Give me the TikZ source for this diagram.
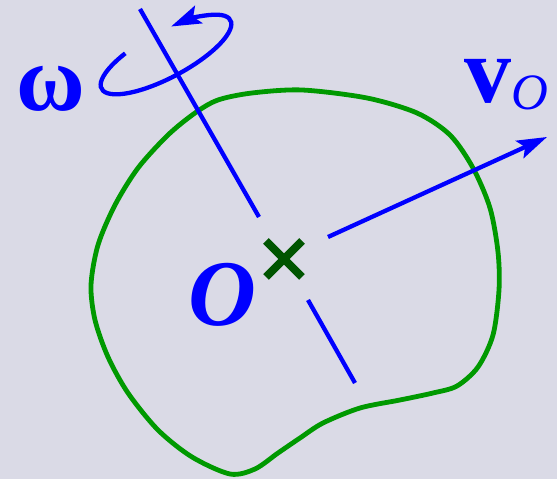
\documentclass[tikz,border=0pt]{standalone}
\usepackage{fontspec}
\setmainfont{Liberation Serif}
\usetikzlibrary{arrows.meta}
\definecolor{bgc}{RGB}{218,218,230}
\definecolor{blobc}{RGB}{0,153,0}
\definecolor{crossc}{RGB}{0,85,0}
\definecolor{bluec}{RGB}{0,0,255}
\begin{document}
\begin{tikzpicture}[x=1pt,y=1pt,
  blobline/.style={blobc, line width=4.8pt},
  axisline/.style={bluec, line width=4.3pt},
  bluearrow/.style={bluec, line width=4.3pt, -{Stealth[length=30pt,width=19pt,inset=6pt]}},
  crossline/.style={crossc, line width=8pt},
  biglabel/.style={text=bluec, inner sep=0pt, font=\fontsize{94}{94}\selectfont}]
\fill[bgc] (0,0) rectangle (557,479);
\useasboundingbox (0,0) rectangle (557,479);
% body outline
\draw[blobline] plot[smooth cycle] coordinates {
 (302,389) (367,381) (417,366) (450,344) (473,311) (490,271) (498,227)
 (499,189) (493,144) (478,112) (457,93) (433,86) (400,79) (360,71)
 (323,56) (300,41) (278,26) (255,10) (230,5) (192,22) (158,49) (128,86)
 (108,122) (95,159) (91,194) (98,234) (115,274) (138,311) (168,344)
 (195,366) (218,379) (252,386)};
% axis
\coordinate (axtop) at (140,470);
\coordinate (gaptop) at (259,262);
\coordinate (gapbot) at (308,179);
\coordinate (axbot) at (355,96);
\draw[axisline] (axtop) -- (gaptop);
\draw[axisline] (gapbot) -- (axbot);
% velocity
\coordinate (vstart) at (328,242);
\coordinate (vtip) at (547,342);
\draw[bluearrow] (vstart) -- (vtip);
% point O cross
\coordinate (O) at (284,220);
\draw[crossline] ([shift={(-18pt,-18pt)}]O) -- ([shift={(18pt,18pt)}]O);
\draw[crossline] ([shift={(-18pt,18pt)}]O) -- ([shift={(18pt,-18pt)}]O);
% rotation
\begin{scope}[shift={(166,424.5)}, rotate=28]
\draw[bluearrow] (119:73pt and 23pt) arc[start angle=119, end angle=436, x radius=73pt, y radius=23pt];
\end{scope}
% labels
\node[biglabel, anchor=base] (omega) at (51,368) {\bfseries ω};
\node[biglabel, anchor=base] (Olab) at (222,153) {\bfseries\itshape O};
\node[biglabel, anchor=base west] (vlab) at (464,376) {\bfseries v\raisebox{-7pt}{\fontsize{51}{51}\selectfont\mdseries\itshape O}};
\end{tikzpicture}
\end{document}
